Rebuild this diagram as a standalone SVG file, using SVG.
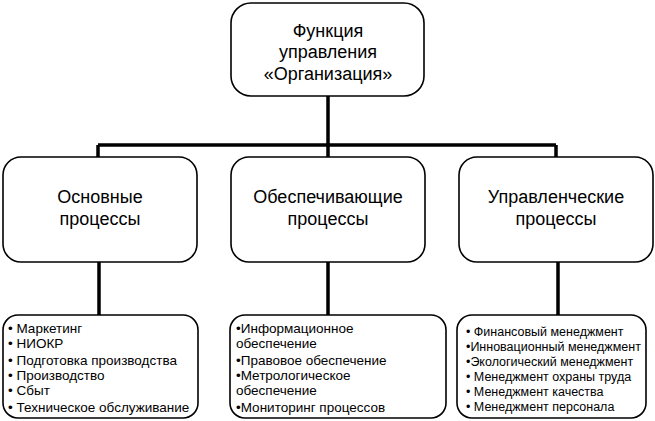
<svg xmlns="http://www.w3.org/2000/svg" width="655" height="421" viewBox="0 0 655 421">
<style>
.box{fill:#fff;stroke:#000;stroke-width:1.6}
.conn{fill:none;stroke:#000;stroke-width:3.5}
.big{font-family:"Liberation Sans",Arial,sans-serif;font-size:18px;text-anchor:middle;fill:#000}
.sm{font-family:"Liberation Sans",Arial,sans-serif;font-size:13.5px;fill:#000}
.sm2{font-family:"Liberation Sans",Arial,sans-serif;font-size:12.5px;fill:#000}
</style>
<rect width="655" height="421" fill="#fff"/>
<g id="connectors">
<path class="conn" d="M328 96 V145 M98 145 H556 M98 145 V158 M328 145 V158 M556 145 V158"/>
<path class="conn" d="M99 262 V316 M328 262 V316 M558 262 V316"/>
</g>
<g id="root">
<rect class="box" x="231" y="3" width="193" height="93" rx="20"/>
<text class="big" x="328" y="37">Функция</text>
<text class="big" x="328" y="58">управления</text>
<text class="big" x="328" y="80">«Организация»</text>
</g>
<g id="main">
<rect class="box" x="3" y="157" width="194" height="105" rx="18"/>
<text class="big" x="100" y="203">Основные</text>
<text class="big" x="100" y="225">процессы</text>
</g>
<g id="support">
<rect class="box" x="231" y="157" width="194" height="105" rx="18"/>
<text class="big" x="328" y="203">Обеспечивающие</text>
<text class="big" x="328" y="225">процессы</text>
</g>
<g id="management">
<rect class="box" x="459" y="157" width="194" height="105" rx="18"/>
<text class="big" x="556" y="203">Управленческие</text>
<text class="big" x="556" y="225">процессы</text>
</g>
<g id="main-list">
<rect class="box" x="3" y="315" width="195" height="103" rx="15"/>
<text class="sm" x="8" y="333">• Маркетинг</text>
<text class="sm" x="8" y="348">• НИОКР</text>
<text class="sm" x="8" y="365">• Подготовка производства</text>
<text class="sm" x="8" y="380">• Производство</text>
<text class="sm" x="8" y="395">• Сбыт</text>
<text class="sm" x="8" y="412">• Техническое обслуживание</text>
</g>
<g id="support-list">
<rect class="box" x="230" y="315" width="216" height="103" rx="15"/>
<text class="sm" x="236" y="333">•Информационное</text>
<text class="sm" x="236" y="348">обеспечение</text>
<text class="sm" x="236" y="365">•Правовое обеспечение</text>
<text class="sm" x="236" y="380">•Метрологическое</text>
<text class="sm" x="236" y="395">обеспечение</text>
<text class="sm" x="236" y="412">•Мониторинг процессов</text>
</g>
<g id="management-list">
<rect class="box" x="457" y="315" width="189" height="103" rx="15"/>
<text class="sm2" x="466" y="336">• Финансовый менеджмент</text>
<text class="sm2" x="466" y="351">•Инновационный менеджмент</text>
<text class="sm2" x="466" y="366">•Экологический менеджмент</text>
<text class="sm2" x="466" y="381">• Менеджмент охраны труда</text>
<text class="sm2" x="466" y="396">• Менеджмент качества</text>
<text class="sm2" x="466" y="411">• Менеджмент персонала</text>
</g>
</svg>
